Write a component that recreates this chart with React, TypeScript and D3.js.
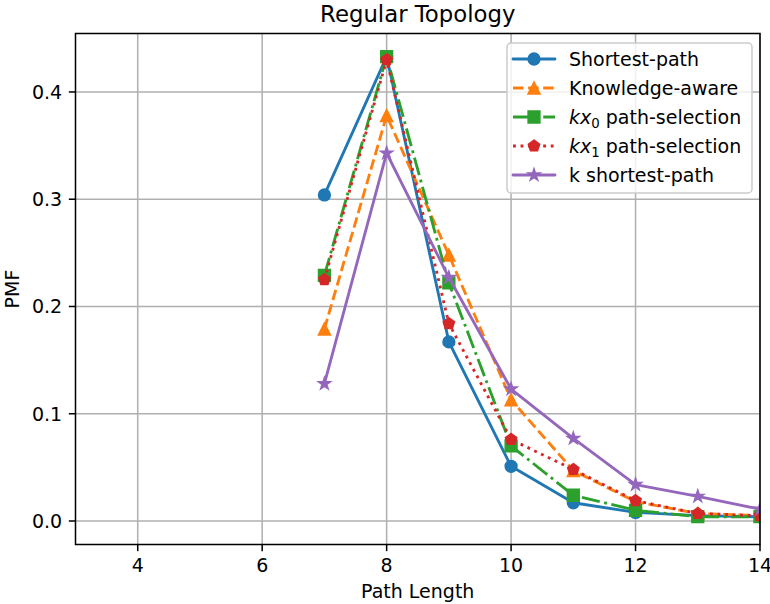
import React from "react";
import * as d3 from "d3";

const pathLengths = [7, 8, 9, 10, 11, 12, 13, 14];
const shortestPath = [0.304, 0.433, 0.167, 0.051, 0.017, 0.008, 0.005, 0.004];
const knowledgeAware = [0.179, 0.378, 0.248, 0.113, 0.047, 0.018, 0.007, 0.005];
const kx0Selection = [0.229, 0.433, 0.222, 0.07, 0.024, 0.01, 0.004, 0.004];
const kx1Selection = [0.225, 0.43, 0.184, 0.076, 0.048, 0.019, 0.007, 0.005];
const kShortestPath = [0.128, 0.343, 0.227, 0.123, 0.077, 0.034, 0.023, 0.011];
const xTicks = [4, 6, 8, 10, 12, 14];
const yTicks = [0.0, 0.1, 0.2, 0.3, 0.4];

type MarkerKind = "circle" | "triangle" | "square" | "pentagon" | "star";

const PT = 1.9;
const LW = 1.5 * PT;

const seriesList: {
  name: string;
  values: number[];
  color: string;
  dash: number[] | null;
  marker: MarkerKind;
  sub?: string;
}[] = [
  { name: "Shortest-path", values: shortestPath, color: "#1f77b4", dash: null, marker: "circle" },
  { name: "Knowledge-aware", values: knowledgeAware, color: "#ff7f0e", dash: [3.7, 1.6], marker: "triangle" },
  { name: " path-selection", values: kx0Selection, color: "#2ca02c", dash: [6.4, 1.6, 1, 1.6], marker: "square", sub: "0" },
  { name: " path-selection", values: kx1Selection, color: "#d62728", dash: [1, 1.65], marker: "pentagon", sub: "1" },
  { name: "k shortest-path", values: kShortestPath, color: "#9467bd", dash: null, marker: "star" },
];

const W = 770;
const H = 604;
const L = 75.5;
const R = 760;
const T = 33.5;
const B = 544.5;
const FONT = "DejaVu Sans, sans-serif";
const FS = 10 * PT;
const MS = 6 * PT;
const TICK = 3.5 * PT;

function dashStr(d: number[] | null): string | undefined {
  return d ? d.map((v) => (v * LW).toFixed(2)).join(",") : undefined;
}

function markerPath(kind: MarkerKind, ms: number): string {
  const r = ms / 2;
  if (kind === "circle") {
    return d3.symbol(d3.symbolCircle, Math.PI * r * r)() as string;
  }
  if (kind === "square") {
    return `M${-r},${-r}L${r},${-r}L${r},${r}L${-r},${r}Z`;
  }
  if (kind === "triangle") {
    return `M0,${-r}L${-r},${r}L${r},${r}Z`;
  }
  if (kind === "pentagon") {
    const pts = d3.range(5).map((k) => {
      const a = (2 * Math.PI * k) / 5;
      return [r * Math.sin(a), -r * Math.cos(a)];
    });
    return "M" + pts.map((p) => p.join(",")).join("L") + "Z";
  }
  const pts = d3.range(10).map((k) => {
    const a = (Math.PI * k) / 5;
    const rr = k % 2 === 0 ? r : r * 0.381966;
    return [rr * Math.sin(a), -rr * Math.cos(a)];
  });
  return "M" + pts.map((p) => p.join(",")).join("L") + "Z";
}

export default function App() {
  const x = d3.scaleLinear().domain([3, 14]).range([L, R]);
  const y = d3.scaleLinear().domain([-0.0219, 0.4545]).range([B, T]);
  const line = d3
    .line<number>()
    .x((_, i) => x(pathLengths[i]))
    .y((d) => y(d));

  const legX = 507;
  const legY = 43;
  const legW = 245;
  const legH = 150;
  const rowY0 = 59;
  const rowGap = 29;

  return (
    <svg width={W} height={H} style={{ display: "block", position: "absolute", left: 0, top: 0 }} fontFamily={FONT}>
      <rect x={0} y={0} width={W} height={H} fill="#ffffff" />
      <defs>
        <clipPath id="axclip">
          <rect x={L} y={T} width={R - L} height={B - T} />
        </clipPath>
      </defs>
      {/* grid */}
      {xTicks.map((t) => (
        <line key={"gx" + t} x1={x(t)} x2={x(t)} y1={T} y2={B} stroke="#b0b0b0" strokeWidth={0.8 * PT} />
      ))}
      {yTicks.map((t) => (
        <line key={"gy" + t} x1={L} x2={R} y1={y(t)} y2={y(t)} stroke="#b0b0b0" strokeWidth={0.8 * PT} />
      ))}
      {/* series */}
      <g clipPath="url(#axclip)">
        {seriesList.map((s, si) => (
          <g key={"s" + si}>
            <path
              d={line(s.values) as string}
              fill="none"
              stroke={s.color}
              strokeWidth={LW}
              strokeDasharray={dashStr(s.dash)}
              strokeLinejoin="round"
              strokeLinecap={s.dash ? "butt" : "round"}
            />
            {s.values.map((v, i) => (
              <path
                key={i}
                d={markerPath(s.marker, MS)}
                transform={`translate(${x(pathLengths[i])},${y(v)})`}
                fill={s.color}
                stroke={s.color}
                strokeWidth={PT}
                strokeLinejoin="miter"
              />
            ))}
          </g>
        ))}
      </g>
      {/* spines */}
      <rect x={L} y={T} width={R - L} height={B - T} fill="none" stroke="#000" strokeWidth={0.8 * PT} />
      {/* x ticks */}
      {xTicks.map((t) => (
        <g key={"xt" + t}>
          <line x1={x(t)} x2={x(t)} y1={B} y2={B + TICK} stroke="#000" strokeWidth={0.8 * PT} />
          <text x={x(t)} y={572} textAnchor="middle" fontSize={FS} fill="#000">
            {t}
          </text>
        </g>
      ))}
      {/* y ticks */}
      {yTicks.map((t) => (
        <g key={"yt" + t}>
          <line x1={L - TICK} x2={L} y1={y(t)} y2={y(t)} stroke="#000" strokeWidth={0.8 * PT} />
          <text x={L - 2 * TICK} y={y(t) + 7} textAnchor="end" fontSize={FS} fill="#000">
            {t.toFixed(1)}
          </text>
        </g>
      ))}
      {/* labels */}
      <text x={(L + R) / 2} y={598} textAnchor="middle" fontSize={FS} fill="#000">
        Path Length
      </text>
      <text
        transform={`translate(19,${(T + B) / 2}) rotate(-90)`}
        textAnchor="middle"
        fontSize={FS}
        fill="#000"
      >
        PMF
      </text>
      <text x={(L + R) / 2} y={22} textAnchor="middle" fontSize={12 * PT} fill="#000">
        Regular Topology
      </text>
      {/* legend */}
      <rect
        x={legX}
        y={legY}
        width={legW}
        height={legH}
        rx={4}
        fill="#ffffff"
        fillOpacity={0.8}
        stroke="#cccccc"
        strokeWidth={0.8 * PT}
      />
      {seriesList.map((s, si) => {
        const ry = rowY0 + si * rowGap;
        return (
          <g key={"lg" + si}>
            <line
              x1={513}
              x2={555}
              y1={ry}
              y2={ry}
              stroke={s.color}
              strokeWidth={LW}
              strokeDasharray={dashStr(s.dash)}
              strokeLinecap={s.dash ? "butt" : "round"}
            />
            <path
              d={markerPath(s.marker, MS)}
              transform={`translate(534,${ry})`}
              fill={s.color}
              stroke={s.color}
              strokeWidth={PT}
            />
            <text x={569} y={ry + 7} fontSize={FS} fill="#000">
              {s.sub ? (
                <>
                  <tspan fontStyle="italic">kx</tspan>
                  <tspan fontSize={FS * 0.7} dy={4}>
                    {s.sub}
                  </tspan>
                  <tspan dy={-4}>{s.name}</tspan>
                </>
              ) : (
                s.name
              )}
            </text>
          </g>
        );
      })}
    </svg>
  );
}
